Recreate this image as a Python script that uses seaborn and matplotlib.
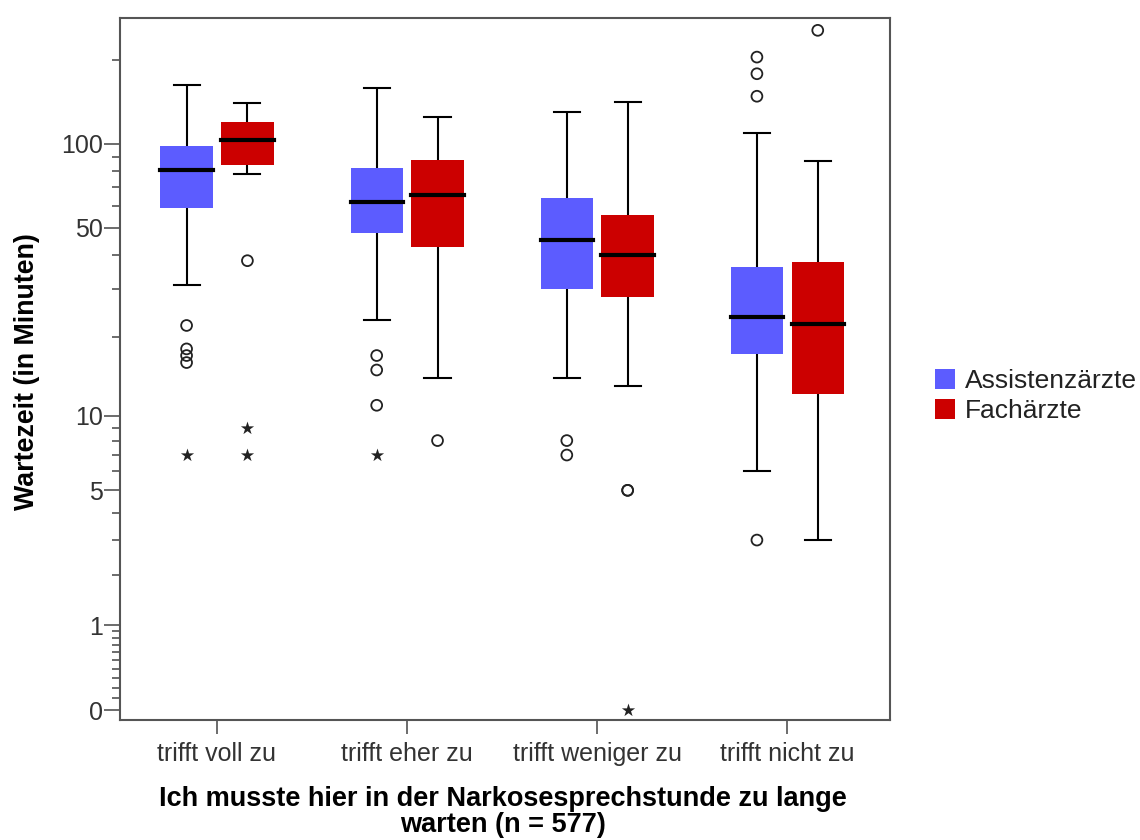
import numpy as np
import pandas as pd
import matplotlib
matplotlib.use("Agg")
import matplotlib.pyplot as plt
from matplotlib.patches import Patch
from matplotlib.ticker import FixedLocator, FixedFormatter
import seaborn as sns

# ---------------- data (minutes) ----------------
categories = ["trifft voll zu", "trifft eher zu", "trifft weniger zu", "trifft nicht zu"]
groups = ["Assistenzärzte", "Fachärzte"]

# box statistics per category: lower whisker, Q1, median, Q3, upper whisker
assist_whislo = [31, 23, 14, 6]
assist_q1 = [59, 48, 30, 17.3]
assist_median = [81, 62, 45, 23.7]
assist_q3 = [98, 82, 64, 36]
assist_whishi = [162, 159, 130, 109]

fach_whislo = [78, 14, 13, 3]
fach_q1 = [84, 42.6, 28, 12.2]
fach_median = [103, 65.5, 40, 22.2]
fach_q3 = [120, 87.5, 55.5, 37.6]
fach_whishi = [140, 125, 141, 87]

# outliers (circles) and extreme values (stars)
assist_outliers = [[22, 18, 17, 16], [17, 15, 11], [8, 7], [204, 178, 148, 3]]
fach_outliers = [[38], [8], [5, 5], [254]]
assist_extremes = [[7], [7], [], []]
fach_extremes = [[9, 7], [], [0], []]

ytick_values = [0, 1, 5, 10, 50, 100]
ytick_labels = ["0", "1", "5", "10", "50", "100"]
yminor_values = [0.1, 0.2, 0.3, 0.4, 0.5, 0.6, 0.7, 0.8, 0.9,
                 2, 3, 4, 6, 7, 8, 9, 20, 30, 40, 60, 70, 80, 90, 200]

colors = {"Assistenzärzte": "#5c5cff", "Fachärzte": "#cc0000"}

# ---------------- build long-form tables ----------------
box_rows, out_rows, ext_rows = [], [], []
stats = {
    "Assistenzärzte": (assist_whislo, assist_q1, assist_median, assist_q3, assist_whishi),
    "Fachärzte": (fach_whislo, fach_q1, fach_median, fach_q3, fach_whishi),
}
outl = {"Assistenzärzte": assist_outliers, "Fachärzte": fach_outliers}
extr = {"Assistenzärzte": assist_extremes, "Fachärzte": fach_extremes}
for i, cat in enumerate(categories):
    for g in groups:
        for arr in stats[g]:
            box_rows.append((cat, g, arr[i]))
        for v in outl[g][i]:
            out_rows.append((cat, g, v))
        for v in extr[g][i]:
            ext_rows.append((cat, g, v))
cols = ["Kategorie", "Gruppe", "Wartezeit"]
box_df = pd.DataFrame(box_rows, columns=cols)
out_df = pd.DataFrame(out_rows, columns=cols)
ext_df = pd.DataFrame(ext_rows, columns=cols)

# ---------------- figure ----------------
plt.rcParams["font.family"] = ["Liberation Sans", "DejaVu Sans"]

fig, ax = plt.subplots(figsize=(11.4, 8.4), dpi=100)
fig.subplots_adjust(left=0.1053, right=0.7807, bottom=0.1429, top=0.9786)


def fwd(x):
    return np.log10(np.clip(np.asarray(x, dtype=float) + 1.0, 1e-6, None))


def inv(t):
    return 10.0 ** np.asarray(t, dtype=float) - 1.0


ax.set_yscale("function", functions=(fwd, inv))

sns.boxplot(
    data=box_df, x="Kategorie", y="Wartezeit", hue="Gruppe",
    order=categories, hue_order=groups, palette=colors, saturation=1,
    width=0.64, gap=0.14, whis=(0, 100), showfliers=False,
    linecolor="black", linewidth=1.5,
    medianprops=dict(linewidth=3.0, color="black", solid_capstyle="projecting"),
    legend=False, ax=ax,
)
for p in ax.patches:
    p.set_edgecolor("none")
    p.set_linewidth(0)

# dodge positions for the points: 5 levels so the two real groups land on the box centres
strip_order = ["_l", "Assistenzärzte", "_m", "Fachärzte", "_r"]
strip_pal = {k: "black" for k in strip_order}

n0 = len(ax.collections)
sns.stripplot(
    data=out_df, x="Kategorie", y="Wartezeit", hue="Gruppe",
    order=categories, hue_order=strip_order, palette=strip_pal,
    dodge=True, jitter=False, marker="o", size=7.8, linewidth=1.3,
    legend=False, ax=ax,
)
for c in ax.collections[n0:]:
    c.set_facecolor("none")
    c.set_edgecolor("#222222")
    c.set_linewidth(1.3)

n1 = len(ax.collections)
sns.stripplot(
    data=ext_df, x="Kategorie", y="Wartezeit", hue="Gruppe",
    order=categories, hue_order=strip_order, palette=strip_pal,
    dodge=True, jitter=False, marker="*", size=10, linewidth=0,
    legend=False, ax=ax,
)
for c in ax.collections[n1:]:
    c.set_facecolor("#222222")

# ---------------- axes styling ----------------
ax.set_xlim(-0.51, 3.54)
ax.set_ylim(-0.077, 281)
ax.yaxis.set_major_locator(FixedLocator(ytick_values))
ax.yaxis.set_major_formatter(FixedFormatter(ytick_labels))
ax.yaxis.set_minor_locator(FixedLocator(yminor_values))

for s in ax.spines.values():
    s.set_color("#555555")
    s.set_linewidth(1.5)

ax.tick_params(axis="y", which="major", length=11.5, width=1.1, color="#444444",
               pad=1, labelsize=18, labelcolor="#333333")
ax.tick_params(axis="y", which="minor", length=6, width=1.1, color="#444444")
ax.tick_params(axis="x", which="major", length=10, width=1.1, color="#444444",
               pad=6, labelsize=18, labelcolor="#333333")

ax.set_ylabel("Wartezeit (in Minuten)", fontsize=19.3, fontweight="bold", color="black")
ax.yaxis.set_label_coords(-0.104, 0.497)
ax.set_xlabel("Ich musste hier in der Narkosesprechstunde zu lange\nwarten (n = 577)",
              fontsize=19.5, fontweight="bold", color="black", linespacing=1.0)
ax.xaxis.set_label_coords(0.497, -0.094)

handles = [Patch(facecolor=colors[g], edgecolor="none", label=g) for g in groups]
leg = ax.legend(handles=handles, loc="center left", bbox_to_anchor=(1.058, 0.4615),
                frameon=False, fontsize=19, handlelength=0.78, handleheight=0.8,
                handletextpad=0.35, labelspacing=0.22, borderpad=0, borderaxespad=0)
for t in leg.get_texts():
    t.set_color("#222222")

fig.savefig("out.png", dpi=100)
